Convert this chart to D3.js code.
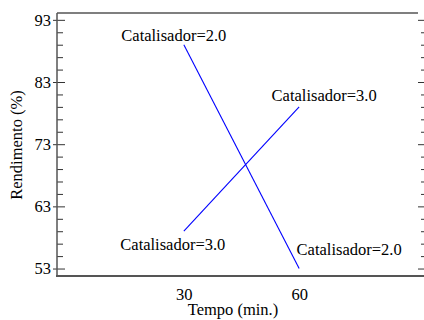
<html>
<head>
<script src="https://d3js.org/d3.v7.min.js"></script>
<style>
body { margin: 0; background: #fff; }
</style>
</head>
<body>
<svg id="chart" width="424" height="320"></svg>
<script>
// values
var tempo = [30, 60];
var cat2 = [89, 53];
var cat3 = [59, 79];
var seriesNames = ["Catalisador=2.0", "Catalisador=3.0"];
var yMajor = [53, 63, 73, 83, 93];
var yMinor = [55, 57, 59, 61, 65, 67, 69, 71, 75, 77, 79, 81, 85, 87, 89, 91];

var svg = d3.select("#chart")
  .attr("font-family", "'Liberation Serif', 'DejaVu Serif', 'Noto Serif', Tinos, FreeSerif, Times, serif");
var fs = 16.5;

var x = d3.scaleLinear().domain([-3, 93]).range([57, 426]);
var y = d3.scaleLinear().domain([51.8, 94.1]).range([276, 13]);

function clean(g) {
  g.attr("font-family", null).attr("font-size", fs);
  g.select(".domain").remove();
  g.selectAll("line").attr("stroke", "#333");
  g.selectAll("text").attr("fill", "#000");
}

// left axis: inner ticks + labels
var left = svg.append("g").attr("transform", "translate(57,0)");
left.call(d3.axisLeft(y).tickValues(yMajor).tickSize(-8).tickPadding(6).tickFormat(d3.format("d")));
clean(left);

// small stubs outside
var stub = svg.append("g").attr("transform", "translate(57,0)");
stub.call(d3.axisLeft(y).tickValues(yMajor).tickSize(4).tickFormat(""));
clean(stub);

var leftMinor = svg.append("g").attr("transform", "translate(57,0)");
leftMinor.call(d3.axisLeft(y).tickValues(yMinor).tickSize(-6).tickFormat(""));
clean(leftMinor);

// right side ticks (axis line sits just past the edge)
var right = svg.append("g").attr("transform", "translate(426,0)");
right.call(d3.axisRight(y).tickValues(yMajor).tickSize(-8).tickFormat(""));
clean(right);
var rightMinor = svg.append("g").attr("transform", "translate(426,0)");
rightMinor.call(d3.axisRight(y).tickValues(yMinor).tickSize(-5).tickFormat(""));
clean(rightMinor);

// bottom axis: labels only
var bottom = svg.append("g").attr("transform", "translate(0,276)");
bottom.call(d3.axisBottom(x).tickValues(tempo).tickSize(0).tickPadding(12).tickFormat(d3.format("d")));
clean(bottom);

// frame
svg.append("line").attr("x1", 57).attr("y1", 13).attr("x2", 418).attr("y2", 13)
  .attr("stroke", "#555").attr("stroke-width", 1.5);
svg.append("line").attr("x1", 57).attr("y1", 13).attr("x2", 57).attr("y2", 276)
  .attr("stroke", "#555").attr("stroke-width", 1.5);
svg.append("line").attr("x1", 56).attr("y1", 276).attr("x2", 424).attr("y2", 276)
  .attr("stroke", "#555").attr("stroke-width", 2);

// axis titles
svg.append("text").text("Tempo (min.)")
  .attr("x", 233).attr("y", 315).attr("text-anchor", "middle").attr("font-size", fs);
svg.append("text").text("Rendimento (%)")
  .attr("transform", "translate(22,145) rotate(-90)")
  .attr("text-anchor", "middle").attr("font-size", fs);

// interaction lines
var line = d3.line().x(function (d) { return x(d[0]); }).y(function (d) { return y(d[1]); });
[cat2, cat3].forEach(function (s) {
  svg.append("path")
    .attr("d", line(d3.zip(tempo, s)))
    .attr("fill", "none").attr("stroke", "#0000ff").attr("stroke-width", 1.1);
});

// labels at the line ends
function label(name, xv, yv, dx, dy) {
  svg.append("text").text(name)
    .attr("x", x(xv) + dx).attr("y", y(yv) + dy)
    .attr("text-anchor", "middle").attr("font-size", fs);
}
label(seriesNames[0], tempo[0], cat2[0], -10, -4);
label(seriesNames[1], tempo[0], cat3[0], -11, 19);
label(seriesNames[1], tempo[1], cat3[1], 25, -6);
label(seriesNames[0], tempo[1], cat2[1], 50, -14);
</script>
</body>
</html>
